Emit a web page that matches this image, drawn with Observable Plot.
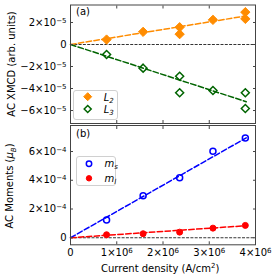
<!DOCTYPE html>
<html><head><meta charset="utf-8">
<script src="https://cdn.jsdelivr.net/npm/d3@7"></script>
<script src="https://cdn.jsdelivr.net/npm/@observablehq/plot@0.6"></script>
<style>
html,body{margin:0;padding:0;background:#fff;}
#wrap{position:relative;width:277px;height:279px;overflow:hidden;font-family:"DejaVu Sans",sans-serif;color:#000;}
.p{position:absolute;left:0;}
.lbl{position:absolute;font-size:10px;white-space:nowrap;}
.rot{position:absolute;font-size:10px;white-space:nowrap;transform:translate(-50%,-50%) rotate(-90deg);}
.leg{position:absolute;border:1px solid #d0d0d0;border-radius:3px;background:rgba(255,255,255,0.85);}
svg{overflow:visible;}
</style></head>
<body><div id="wrap"></div>
<script>
// ---- data ----
const xXMCD = [0.78e6, 1.57e6, 2.36e6, 2.36e6, 3.08e6, 3.78e6, 3.78e6];
const L2 = [0.45e-5, 1.15e-5, 1.57e-5, 0.94e-5, 2.24e-5, 2.94e-5, 2.33e-5];
const L3 = [-0.91e-5, -2.15e-5, -2.88e-5, -4.39e-5, -4.18e-5, -4.39e-5, -5.82e-5];
const xMom = [0.78e6, 1.57e6, 2.36e6, 3.08e6, 3.78e6];
const ms = [1.24e-4, 2.92e-4, 4.18e-4, 6.02e-4, 6.94e-4];
const ml = [0.21e-4, 0.28e-4, 0.39e-4, 0.67e-4, 0.86e-4];
const fitX = [0, 3.8e6];
const L2fit = [0, 2.6e-5];
const L3fit = [0, -5.2e-5];
const msFit = [0, 6.95e-4];
const mlFit = [0, 0.84e-4];
const xTicks = [0, 1e6, 2e6, 3e6, 4e6];
const xTickLabels = ["0", "1×10^6", "2×10^6", "3×10^6", "4×10^6"];
const yTicksA = [-6e-5, -4e-5, -2e-5, 0, 2e-5];
const yTickLabelsA = ["−6×10^−5", "−4×10^−5", "−2×10^−5", "0", "2×10^−5"];
const yTicksB = [0, 2e-4, 4e-4, 6e-4];
const yTickLabelsB = ["0", "2×10^−4", "4×10^−4", "6×10^−4"];

const C = {orange:"#ff8c00", green:"#006400", blue:"#0000ff", red:"#ff0000", frame:"#444"};
const fmt = (ticks, labels) => d => {
  let best = 0, bd = Infinity;
  ticks.forEach((t, i) => { const dd = Math.abs(t - d); if (dd < bd) { bd = dd; best = i; } });
  return labels[best];
};

const xyA = xXMCD.map((x,i)=>({x, l2:L2[i], l3:L3[i]}));
const fitA = fitX.map((x,i)=>({x, l2:L2fit[i], l3:L3fit[i]}));
const xyB = xMom.map((x,i)=>({x, ms:ms[i], ml:ml[i]}));
const fitB = fitX.map((x,i)=>({x, ms:msFit[i], ml:mlFit[i]}));

function inTicks(xT, yT){
  return [
    Plot.axisX(xT, {anchor:"bottom", tickSize:-3, text:null, stroke:C.frame, label:null}),
    Plot.axisX(xT, {anchor:"top", tickSize:-3, text:null, stroke:C.frame, label:null}),
    Plot.axisY(yT, {anchor:"left", tickSize:-3, text:null, stroke:C.frame, label:null}),
    Plot.axisY(yT, {anchor:"right", tickSize:-3, text:null, stroke:C.frame, label:null})
  ];
}
const dash = "5.5,2.4";

const plotA = Plot.plot({
  width:277, height:125, marginLeft:70, marginRight:22, marginTop:4.5, marginBottom:2,
  style:{fontFamily:"DejaVu Sans", fontSize:"10px", overflow:"visible"},
  x:{domain:[0,4e6]}, y:{domain:[-7.18e-5, 3.59e-5]},
  marks:[
    Plot.ruleY([0], {stroke:"black", strokeWidth:0.8, strokeDasharray:"3,1.3"}),
    Plot.line(fitA, {x:"x", y:"l2", stroke:C.orange, strokeWidth:1.5, strokeDasharray:dash}),
    Plot.line(fitA, {x:"x", y:"l3", stroke:C.green, strokeWidth:1.5, strokeDasharray:dash}),
    Plot.dot(xyA, {x:"x", y:"l2", symbol:"diamond2", r:4.2, fill:C.orange, stroke:C.orange, strokeWidth:1}),
    Plot.dot(xyA, {x:"x", y:"l3", symbol:"diamond2", r:3.6, fill:"none", stroke:C.green, strokeWidth:1.5}),
    ...inTicks(xTicks, yTicksA),
    Plot.axisY(yTicksA, {anchor:"left", tickSize:0, tickPadding:4, tickFormat:fmt(yTicksA, yTickLabelsA), label:null, fontSize:10}),
    Plot.frame({stroke:C.frame, strokeWidth:1})
  ]
});

const plotB = Plot.plot({
  width:277, height:156, marginLeft:70, marginRight:22, marginTop:2, marginBottom:34.7,
  style:{fontFamily:"DejaVu Sans", fontSize:"10px", overflow:"visible"},
  x:{domain:[0,4e6]}, y:{domain:[-0.49e-4, 7.81e-4]},
  marks:[
    Plot.ruleY([0], {stroke:"black", strokeWidth:0.8, strokeDasharray:"3,1.3"}),
    Plot.line(fitB, {x:"x", y:"ms", stroke:C.blue, strokeWidth:1.5, strokeDasharray:dash}),
    Plot.line(fitB, {x:"x", y:"ml", stroke:C.red, strokeWidth:1.5, strokeDasharray:dash}),
    Plot.dot(xyB, {x:"x", y:"ms", r:3, fill:"none", stroke:C.blue, strokeWidth:1.5}),
    Plot.dot(xyB, {x:"x", y:"ml", r:3, fill:C.red, stroke:C.red, strokeWidth:1}),
    ...inTicks(xTicks, yTicksB),
    Plot.axisY(yTicksB, {anchor:"left", tickSize:0, tickPadding:4, tickFormat:fmt(yTicksB, yTickLabelsB), label:null, fontSize:10}),
    Plot.axisX(xTicks, {anchor:"bottom", tickSize:0, tickPadding:4.5, tickFormat:fmt(xTicks, xTickLabels), label:null, fontSize:10}),
    Plot.frame({stroke:C.frame, strokeWidth:1})
  ]
});

// superscript post-processing for "a×10^b" labels
function supers(svg){
  svg.querySelectorAll("text").forEach(t => {
    const s = t.textContent;
    if (!s.includes("^")) return;
    const [base, exp] = s.split("^");
    t.textContent = "";
    const ns = "http://www.w3.org/2000/svg";
    const a = document.createElementNS(ns, "tspan"); a.textContent = base; t.appendChild(a);
    const b = document.createElementNS(ns, "tspan"); b.textContent = exp;
    b.setAttribute("dy", "-0.45em"); b.setAttribute("font-size", "7px"); t.appendChild(b);
  });
}
supers(plotA); supers(plotB);

const wrap = document.getElementById("wrap");
const d1 = document.createElement("div"); d1.className="p"; d1.style.top="0px"; d1.appendChild(plotA); wrap.appendChild(d1);
const d2 = document.createElement("div"); d2.className="p"; d2.style.top="123px"; d2.appendChild(plotB); wrap.appendChild(d2);

function add(html, cls, css){ const e=document.createElement("div"); e.className=cls; e.innerHTML=html; Object.assign(e.style, css); wrap.appendChild(e); return e; }
add("(a)", "lbl", {left:"76px", top:"6px"});
add("(b)", "lbl", {left:"76px", top:"128px"});
add("AC XMCD (arb. units)", "rot", {left:"11px", top:"64px"});
add("AC Moments (<i>μ<sub style='font-size:7px'>B</sub></i>)", "rot", {left:"11px", top:"186px"});
add("Current density (A/cm<sup style='font-size:7px'>2</sup>)", "lbl", {left:"101px", top:"262px"});

// legends
add(`<svg width="44" height="29" style="position:absolute;left:0;top:0">
<path d="M13.7,1.7 L17.7,5.7 L13.7,9.7 L9.7,5.7Z" fill="${C.orange}" stroke="${C.orange}"/>
<path d="M13.7,14.5 L17.2,18 L13.7,21.5 L10.2,18Z" fill="none" stroke="${C.green}" stroke-width="1.5"/>
<text x="29.7" y="9.5" font-size="10" font-style="italic">L<tspan font-size="7" dy="2">2</tspan></text>
<text x="29.7" y="21.5" font-size="10" font-style="italic">L<tspan font-size="7" dy="2">3</tspan></text>
</svg>`, "leg", {left:"73px", top:"90px", width:"43px", height:"28px"});
add(`<svg width="39" height="29" style="position:absolute;left:0;top:0">
<circle cx="12" cy="6.7" r="2.7" fill="none" stroke="${C.blue}" stroke-width="1.5"/>
<circle cx="12" cy="21.3" r="2.7" fill="${C.red}" stroke="${C.red}"/>
<text x="27.5" y="10" font-size="10" font-style="italic">m<tspan font-size="7" dy="2">s</tspan></text>
<text x="27.5" y="24.5" font-size="10" font-style="italic">m<tspan font-size="7" dy="2">l</tspan></text>
</svg>`, "leg", {left:"76px", top:"156px", width:"38px", height:"28px"});
</script></body></html>
